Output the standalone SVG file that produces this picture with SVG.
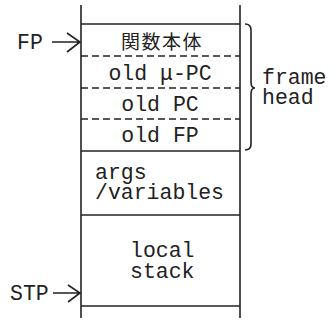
<svg xmlns="http://www.w3.org/2000/svg" width="334" height="323" viewBox="0 0 334 323">
<style>
.t{font-family:"Liberation Mono","DejaVu Sans Mono",monospace;font-size:21.5px;fill:#222}
.j{font-family:"Noto Sans CJK JP","Noto Sans CJK SC",sans-serif;font-size:19px;letter-spacing:1.5px;fill:#222}
.s{stroke:#222;stroke-width:1.6;fill:none}
.d{stroke:#222;stroke-width:1.4;fill:none;stroke-dasharray:7 4}
</style>
<rect width="334" height="323" fill="#fff"/>
<g id="stack">
<line class="s" x1="81" y1="5" x2="81" y2="318"/>
<line class="s" x1="240" y1="5" x2="240" y2="318"/>
<line class="s" x1="81" y1="24" x2="240" y2="24"/>
<line class="s" x1="81" y1="151" x2="240" y2="151"/>
<line class="s" x1="81" y1="215" x2="240" y2="215"/>
<line class="s" x1="81" y1="306" x2="240" y2="306"/>
</g>
<g id="func-body"><text class="j" x="162" y="49" text-anchor="middle">関数本体</text></g>
<g id="old-mupc"><line class="d" x1="81" y1="56" x2="240" y2="56"/><text class="t" x="160" y="80" text-anchor="middle">old μ-PC</text></g>
<g id="old-pc"><line class="d" x1="81" y1="88" x2="240" y2="88"/><text class="t" x="160" y="111" text-anchor="middle">old PC</text></g>
<g id="old-fp"><line class="d" x1="81" y1="119" x2="240" y2="119"/><text class="t" x="160" y="142" text-anchor="middle">old FP</text></g>
<g id="args"><text class="t" x="95" y="179">args</text><text class="t" x="95" y="199">/variables</text></g>
<g id="local"><text class="t" x="130" y="257">local</text><text class="t" x="130" y="278">stack</text></g>
<g id="frame-head">
<path class="s" d="M245,24 Q251,24 251,30 L251,82 Q251,88 255,88 Q251,88 251,94 L251,144 Q251,150 245,150"/>
<text class="t" x="262" y="84">frame</text><text class="t" x="262" y="104">head</text>
</g>
<g id="fp"><text class="t" x="17" y="49">FP</text></g>
<g id="stp"><text class="t" x="10" y="300">STP</text></g>
<g id="connectors">
<path class="s" d="M52,42 L80,42 M67,33 L80,42 L67,52"/>
<path class="s" d="M53,293 L80,293 M68,285 L80,293 L68,302"/>
</g>
</svg>
